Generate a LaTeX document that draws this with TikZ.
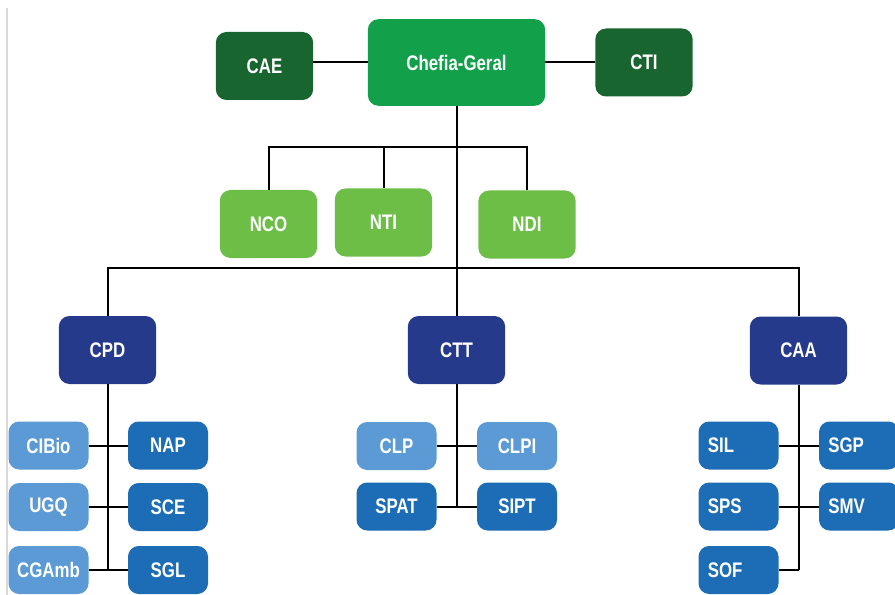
\documentclass[tikz,border=0pt]{standalone}
\usepackage{fontspec}
\setmainfont{Liberation Sans}[FakeStretch=0.8]
\usepackage{xcolor}

\definecolor{darkgreen}{HTML}{19652F}
\definecolor{midgreen}{HTML}{12A04B}
\definecolor{lightgreen}{HTML}{6DBE47}
\definecolor{darkblue}{HTML}{263A8C}
\definecolor{midblue}{HTML}{1C6DB6}
\definecolor{lightblue}{HTML}{5B9AD5}

\begin{document}
\begin{tikzpicture}[x=0.75pt,y=-0.75pt,
		box/.style={rounded corners=8pt, text=white, inner sep=0pt,
			font=\fontsize{15.8}{18}\selectfont\bfseries},
		bigbox/.style={box, minimum width=73pt, minimum height=51pt},
		smallbox/.style={box, minimum width=60pt, minimum height=36pt},
		leftbox/.style={smallbox, text width=46pt, align=left, inner xsep=7pt},
		link/.style={line width=1.5pt}]
		% Frame of the picture
		\useasboundingbox (0,0) rectangle (895,595);
		\clip (0,0) rectangle (895,595);
		\draw[gray!30, line width=0.8pt] (7,8) -- (7,595);

		% Top level
		\node[box, fill=midgreen, minimum width=133pt, minimum height=65pt] (chefia) at (456.5,62.5) {Chefia-Geral};
		\node[bigbox, fill=darkgreen] (cae) at (264.5,66) {CAE};
		\node[bigbox, fill=darkgreen] (cti) at (644,62.5) {CTI};

		% Cores
		\node[bigbox, fill=lightgreen] (nco) at (268.5,224) {NCO};
		\node[bigbox, fill=lightgreen] (nti) at (383.5,222.5) {NTI};
		\node[bigbox, fill=lightgreen] (ndi) at (527,224.5) {NDI};

		% Coordinations
		\node[bigbox, fill=darkblue] (cpd) at (107.5,350) {CPD};
		\node[bigbox, fill=darkblue] (ctt) at (456.5,350) {CTT};
		\node[bigbox, fill=darkblue] (caa) at (798.5,350.5) {CAA};

		% Units of CPD
		\node[smallbox, fill=lightblue] (cibio) at (48.5,445.5) {CIBio};
		\node[smallbox, fill=lightblue] (ugq) at (48.5,507) {UGQ};
		\node[smallbox, fill=lightblue] (cgamb) at (48.5,570) {CGAmb};
		\node[smallbox, fill=midblue] (nap) at (168,445.5) {NAP};
		\node[smallbox, fill=midblue] (sce) at (168,507) {SCE};
		\node[smallbox, fill=midblue] (sgl) at (168,570) {SGL};

		% Units of CTT
		\node[smallbox, fill=lightblue] (clp) at (396.5,446) {CLP};
		\node[smallbox, fill=lightblue] (clpi) at (517,446) {CLPI};
		\node[smallbox, fill=midblue] (spat) at (396.5,506.5) {SPAT};
		\node[smallbox, fill=midblue] (sipt) at (517,506.5) {SIPT};

		% Units of CAA
		\node[leftbox, fill=midblue] (sil) at (738.5,445.5) {SIL};
		\node[leftbox, fill=midblue] (sps) at (738.5,506.5) {SPS};
		\node[leftbox, fill=midblue] (sof) at (738.5,570) {SOF};
		\node[leftbox, fill=midblue] (sgp) at (859,445.5) {SGP};
		\node[leftbox, fill=midblue] (smv) at (859,506.5) {SMV};

		% Connectors
		\coordinate (nbus) at (456.5,147);
		\coordinate (cbus) at (456.5,268);
		\draw[link] (cae.east |- chefia.west) -- (chefia.west);
		\draw[link] (chefia.east) -- (chefia.east -| cti.west);
		\draw[link] (chefia) -- (ctt);
		\draw[link] (nco.north) |- (nbus) -| (ndi.north);
		\draw[link] (nti.north) -- (nti.north |- nbus);
		\draw[link] (cpd.north) |- (cbus) -| (caa.north);

		\draw[link] (cpd.south) -- (cpd.south |- cgamb);
		\draw[link] (cibio.east) -- (nap.west);
		\draw[link] (ugq.east) -- (sce.west);
		\draw[link] (cgamb.east) -- (sgl.west);

		\draw[link] (ctt.south) -- (ctt.south |- spat);
		\draw[link] (clp.east) -- (clpi.west);
		\draw[link] (spat.east) -- (sipt.west);

		\draw[link] (caa.south) -- (caa.south |- sof);
		\draw[link] (sil.east) -- (sgp.west);
		\draw[link] (sps.east) -- (smv.west);
		\draw[link] (sof.east) -- (sof.east -| caa.south);
	\end{tikzpicture}
\end{document}
